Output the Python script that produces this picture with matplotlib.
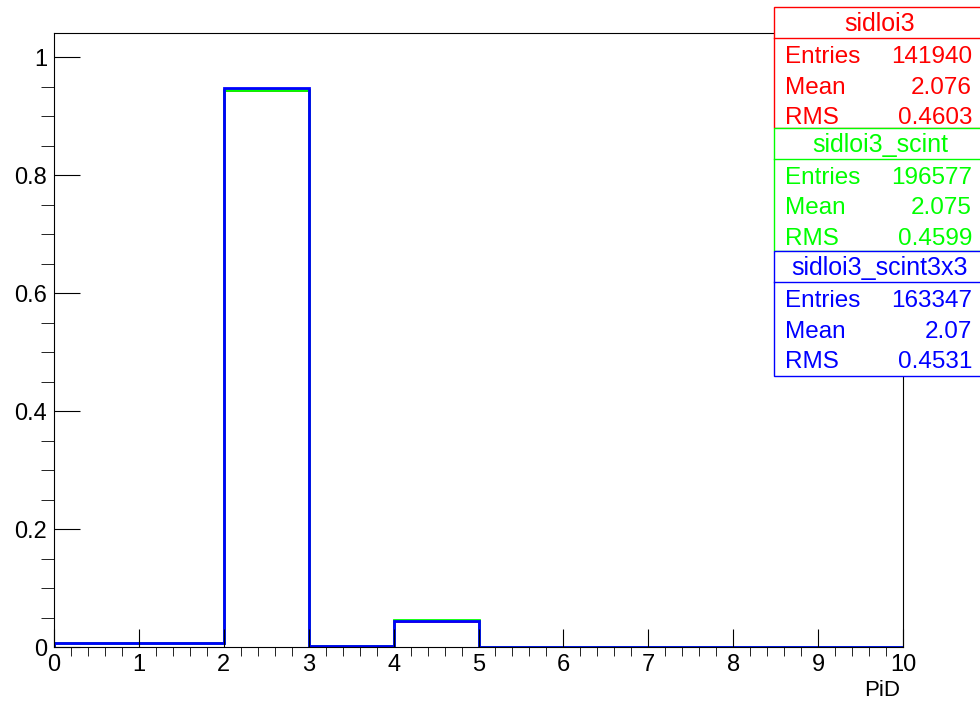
import numpy as np
import matplotlib
matplotlib.use("Agg")
import matplotlib.pyplot as plt
from matplotlib.patches import Rectangle

plt.rcParams['font.family'] = ['Liberation Sans', 'DejaVu Sans']

# bin edges for PiD (integer values, one bin per unit)
edges = np.arange(0, 11)

# normalised contents
sidloi3 = [0.0068, 0.0068, 0.9445, 0.0020, 0.0445, 0, 0, 0, 0, 0]
sidloi3_scint = [0.0068, 0.0068, 0.9445, 0.0020, 0.0455, 0, 0, 0, 0, 0]
sidloi3_scint3x3 = [0.0070, 0.0070, 0.9470, 0.0018, 0.0440, 0, 0, 0, 0, 0]

names = ["sidloi3", "sidloi3_scint", "sidloi3_scint3x3"]
colors = ["#ff0000", "#00ff00", "#0000ff"]
entries = ["141940", "196577", "163347"]
means = ["2.076", "2.075", "2.07"]
rmss = ["0.4603", "0.4599", "0.4531"]

W, H = 980, 704
fig = plt.figure(figsize=(W / 100, H / 100), dpi=100)
ax = fig.add_axes([54 / W, 1 - 647 / H, (903 - 54) / W, (647 - 33) / H])

for vals, c in zip([sidloi3, sidloi3_scint, sidloi3_scint3x3], colors):
    ax.stairs(vals, edges, color=c, lw=2)

ax.set_xlim(0, 10)
ax.set_ylim(0, 1.0407)
ax.set_xticks(np.arange(0, 11))
ax.set_xticks(np.arange(0, 10.01, 0.2), minor=True)
ax.set_yticks([0, 0.2, 0.4, 0.6, 0.8, 1.0])
ax.set_yticklabels(["0", "0.2", "0.4", "0.6", "0.8", "1"])
ax.set_yticks(np.arange(0, 1.04, 0.05), minor=True)
ax.tick_params(axis='both', direction='in', labelsize=17, width=0.8, color='black')
ax.tick_params(axis='x', which='major', length=13, pad=5)
ax.tick_params(axis='x', which='minor', length=6.5)
ax.tick_params(axis='y', which='major', length=19, pad=5)
ax.tick_params(axis='y', which='minor', length=9.5)
for s in ax.spines.values():
    s.set_linewidth(0.8)

fig.text(882 / W, 1 - 691 / H, "PiD", ha='center', va='center', fontsize=16)

# stats boxes
box_top = [7, 128, 251]
box_bot = [128, 251, 376]
x0 = 774
for i in range(3):
    t, b = box_top[i], box_bot[i]
    c = colors[i]
    fig.patches.append(Rectangle((x0 / W, 1 - b / H), (W + 10 - x0) / W, (b - t) / H,
                                 transform=fig.transFigure, fc='white', ec=c, lw=1, zorder=5))
    sep = t + 31
    fig.add_artist(plt.Line2D([x0 / W, 1.01], [1 - sep / H, 1 - sep / H],
                              transform=fig.transFigure, color=c, lw=1, zorder=6))
    fig.text(880 / W, 1 - (t + 17) / H, names[i], color=c, ha='center', va='center',
             fontsize=18, zorder=7)
    rows = [("Entries", entries[i]), ("Mean", means[i]), ("RMS", rmss[i])]
    for j, (lab, val) in enumerate(rows):
        y = t + 50 + j * 30.5
        fig.text(785 / W, 1 - y / H, lab, color=c, ha='left', va='center', fontsize=17.5, zorder=7)
        fig.text(972 / W, 1 - y / H, val, color=c, ha='right', va='center', fontsize=17.5, zorder=7)

fig.savefig("out.png", dpi=100)
